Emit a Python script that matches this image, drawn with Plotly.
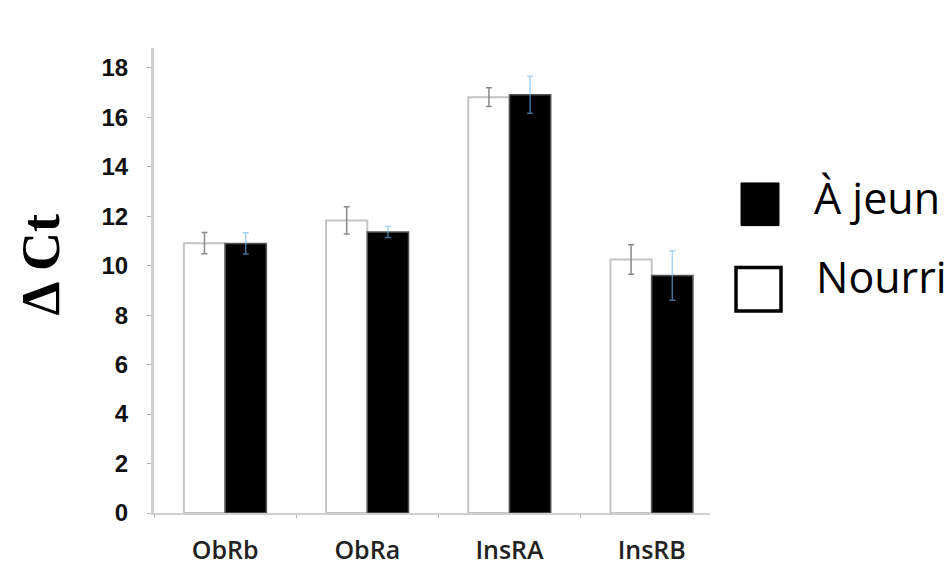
import plotly.graph_objects as go

genes = ["ObRb", "ObRa", "InsRA", "InsRB"]
series_names = ["Nourri", "À jeun"]
nourri = [10.91, 11.83, 16.81, 10.25]
nourri_err = [0.43, 0.55, 0.38, 0.60]
jeun = [10.90, 11.36, 16.91, 9.60]
jeun_err = [0.43, 0.22, 0.75, 1.00]
y_ticks = [0, 2, 4, 6, 8, 10, 12, 14, 16, 18]

W, H = 952, 570
L, R, T, B = 146, 250, 40, 51
pw, ph = W - L - R, H - T - B

def px_x(x):
    return (x - L) / pw

def px_y(y):
    return (H - B - y) / ph

fig = go.Figure()
fig.add_trace(go.Bar(
    x=genes, y=nourri, name=series_names[0],
    marker=dict(color="white", line=dict(color="#c4c4c4", width=2)),
    error_y=dict(type="data", array=nourri_err, color="#8a8a8a", thickness=1.5, width=3),
))
fig.add_trace(go.Bar(
    x=genes, y=jeun, name=series_names[1],
    marker=dict(color="black", line=dict(color="#555555", width=1.5)),
    error_y=dict(type="data", array=jeun_err, color="rgba(110,185,245,0.6)", thickness=1.5, width=3),
))

# legende dessinee a la main (grands carres)
shapes = [
    dict(type="rect", xref="paper", yref="paper",
         x0=px_x(733), x1=px_x(771), y0=px_y(223), y1=px_y(179),
         fillcolor="black", line=dict(color="black", width=1)),
    dict(type="rect", xref="paper", yref="paper",
         x0=px_x(728), x1=px_x(773), y0=px_y(311), y1=px_y(266),
         fillcolor="white", line=dict(color="black", width=3.5)),
]
annotations = [
    dict(text=series_names[1], xref="paper", yref="paper", x=px_x(804), y=px_y(194),
         xanchor="left", yanchor="middle", showarrow=False,
         font=dict(family="Open Sans", size=43, color="black")),
    dict(text=series_names[0], xref="paper", yref="paper", x=px_x(806), y=px_y(275),
         xanchor="left", yanchor="middle", showarrow=False,
         font=dict(family="Open Sans", size=43, color="black")),
    dict(text="<b>Δ Ct</b>", xref="paper", yref="paper", x=px_x(33), y=px_y(263),
         xanchor="center", yanchor="middle", textangle=-90, showarrow=False,
         font=dict(family="Liberation Serif", size=54, color="black")),
]

fig.update_layout(
    width=W, height=H,
    margin=dict(l=L, r=R, t=T, b=B),
    plot_bgcolor="white", paper_bgcolor="white",
    barmode="group", bargap=0.42, bargroupgap=0,
    showlegend=False,
    shapes=shapes, annotations=annotations,
)
fig.update_xaxes(
    range=[-0.5, 3.41], showgrid=False, zeroline=False,
    showline=True, linecolor="#d0d0d0", linewidth=2,
    ticks="outside", tickson="boundaries", ticklen=3, tickcolor="#b0b0b0",
    tickfont=dict(family="Open Sans", size=25, color="#222222", weight=600),
    ticklabelstandoff=14,
)
fig.update_yaxes(
    range=[0, 18.8], tickvals=y_ticks, showgrid=False, zeroline=False,
    showline=True, linecolor="#d0d0d0", linewidth=3,
    ticks="outside", ticklen=4, tickcolor="#b0b0b0",
    tickfont=dict(family="Liberation Sans", size=24, color="#111111", weight="bold"),
    ticklabelstandoff=14,
)

fig.write_html("out.html")
